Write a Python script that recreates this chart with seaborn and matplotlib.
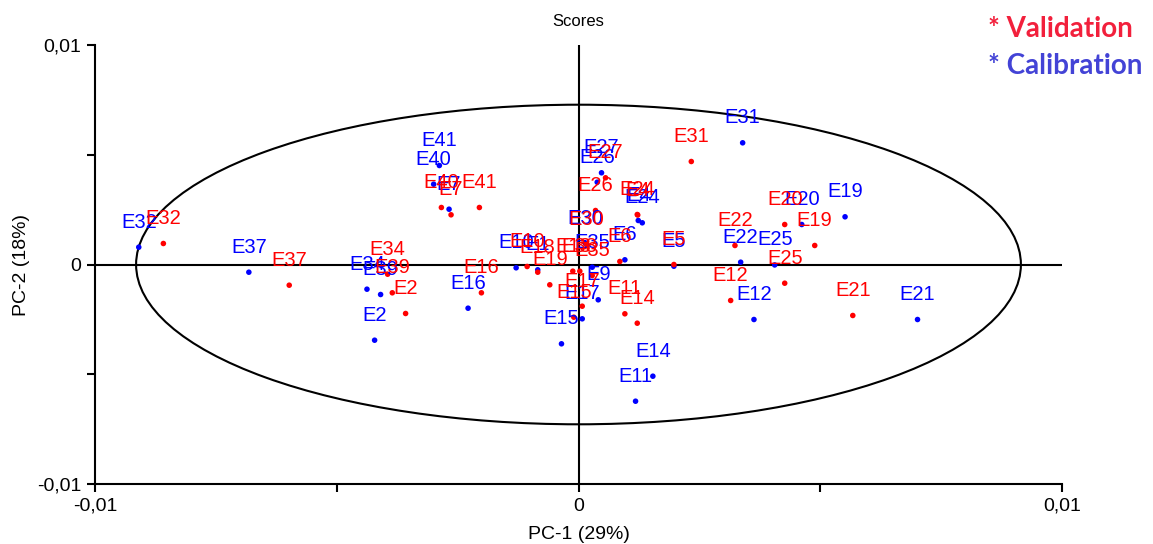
import numpy as np
import pandas as pd
import matplotlib
matplotlib.use("Agg")
import matplotlib.pyplot as plt
import seaborn as sns
from matplotlib.patches import Ellipse

# ---- data ----
cal_labels = ["E32", "E37", "E41", "E40", "E7", "E34", "E39", "E2", "E16", "E10",
              "E1", "E15", "E17", "E9", "E35", "E30", "E27", "E26", "E24", "E4",
              "E6", "E5", "E11", "E14", "E31", "E22", "E25", "E12", "E20", "E19", "E21"]
cal_pc1 = [-0.009095, -0.006818, -0.002878, -0.002996, -0.002677, -0.004375, -0.004093,
           -0.004217, -0.002284, -0.001290, -0.000843, -0.000352, 0.000077, 0.000408,
           0.000284, 0.000145, 0.000476, 0.000387, 0.001319, 0.001236, 0.000959, 0.001973,
           0.001180, 0.001538, 0.003395, 0.003354, 0.004058, 0.003629, 0.004617, 0.005513,
           0.007012]
cal_pc2 = [0.000788, -0.000351, 0.004510, 0.003658, 0.002519, -0.001125, -0.001367,
           -0.003449, -0.001991, -0.000150, -0.000241, -0.003613, -0.002474, -0.001608,
           -0.000123, 0.000957, 0.004178, 0.003749, 0.001900, 0.002005, 0.000214, -0.000078,
           -0.006228, -0.005089, 0.005544, 0.000105, -0.000020, -0.002506, 0.001822, 0.002173,
           -0.002506]

val_labels = ["E32", "E37", "E40", "E7", "E41", "E34", "E39", "E2", "E16", "E10",
              "E18", "E19", "E13", "E38", "E35", "E30", "E17", "E15", "E11", "E14",
              "E27", "E26", "E24", "E4", "E6", "E5", "E31", "E22", "E12", "E25",
              "E20", "E19", "E21"]
val_pc1 = [-0.008586, -0.005983, -0.002836, -0.002636, -0.002050, -0.003948, -0.003851,
           -0.003576, -0.002008, -0.001062, -0.000843, -0.000594, -0.000118, 0.000027,
           0.000284, 0.000166, 0.000077, -0.000097, 0.000959, 0.001215, 0.000559, 0.000352,
           0.001215, 0.001225, 0.000855, 0.001973, 0.002333, 0.003236, 0.003147, 0.004265,
           0.004265, 0.004886, 0.005673]
val_pc2 = [0.000957, -0.000943, 0.002597, 0.002264, 0.002597, -0.000442, -0.001289,
           -0.002232, -0.001289, -0.000091, -0.000351, -0.000925, -0.000305, -0.000305,
           -0.000501, 0.000911, -0.001900, -0.002401, -0.002246, -0.002674, 0.003950, 0.002460,
           0.002278, 0.002255, 0.000137, 0.000000, 0.004692, 0.000866, -0.001640, -0.000852,
           0.001822, 0.000866, -0.002323]

ellipse_a = 0.00915   # half-width along PC-1
ellipse_b = 0.00728   # half-height along PC-2

x_ticks = [-0.01, -0.005, 0.0, 0.005, 0.01]
x_tick_labels = ["-0,01", "", "0", "", "0,01"]
y_ticks = [-0.01, -0.005, 0.0, 0.005, 0.01]
y_tick_labels = ["-0,01", "", "0", "", "0,01"]

# ---- build table ----
df = pd.concat([
    pd.DataFrame({"PC1": cal_pc1, "PC2": cal_pc2, "name": cal_labels, "set": "Calibration"}),
    pd.DataFrame({"PC1": val_pc1, "PC2": val_pc2, "name": val_labels, "set": "Validation"}),
], ignore_index=True)

sns.set_theme(style="white")
plt.rcParams["font.family"] = ["Liberation Sans", "DejaVu Sans"]

fig = plt.figure(figsize=(11.53, 5.44), dpi=100)
ax = fig.add_axes([95 / 1153, 1 - 484 / 544, (1062 - 95) / 1153, (484 - 45) / 544])

colors = {"Calibration": "#0000ff", "Validation": "#ff0000"}

# zero lines and ellipse
ax.axhline(0, color="black", lw=1.5, zorder=1)
ax.axvline(0, color="black", lw=1.5, zorder=1)
ax.add_patch(Ellipse((0, 0), 2 * ellipse_a, 2 * ellipse_b, fill=False,
                     edgecolor="black", lw=1.5, zorder=1))

sns.scatterplot(data=df, x="PC1", y="PC2", hue="set", palette=colors,
                hue_order=["Calibration", "Validation"], s=16, linewidth=0,
                legend=False, ax=ax, zorder=3)

for sname in ["Calibration", "Validation"]:
    sub = df[df["set"] == sname]
    for _, r in sub.iterrows():
        ax.annotate(r["name"], (r["PC1"], r["PC2"]), xytext=(0, 14),
                    textcoords="offset points", ha="center", va="baseline",
                    fontsize=14.5, color=colors[sname], zorder=4)

ax.set_xlim(-0.01, 0.01)
ax.set_ylim(-0.01, 0.01)
ax.set_xticks(x_ticks)
ax.set_xticklabels(x_tick_labels)
ax.set_yticks(y_ticks)
ax.set_yticklabels(y_tick_labels)
ax.tick_params(axis="both", which="major", direction="out", length=6, width=1.5,
               color="black", labelsize=14, pad=4, labelcolor="black",
               bottom=True, left=True)

for side in ["top", "right"]:
    ax.spines[side].set_visible(False)
for side in ["left", "bottom"]:
    ax.spines[side].set_color("black")
    ax.spines[side].set_linewidth(1.5)

ax.set_xlabel("PC-1 (29%)", fontsize=14, labelpad=8, color="black")
ax.set_ylabel("PC-2 (18%)", fontsize=14, labelpad=5, color="black")
ax.set_title("Scores", fontsize=12, pad=14, color="black")

# custom legend text in the corner
fig.text(988 / 1153, 1 - 37 / 544, "* Validation", color="#f2203c", fontsize=20,
         fontweight="bold", family=["Lato", "DejaVu Sans"], va="baseline", ha="left")
fig.text(988 / 1153, 1 - 74 / 544, "* Calibration", color="#4343d6", fontsize=20,
         fontweight="bold", family=["Lato", "DejaVu Sans"], va="baseline", ha="left")

fig.savefig("out.png", dpi=100)
